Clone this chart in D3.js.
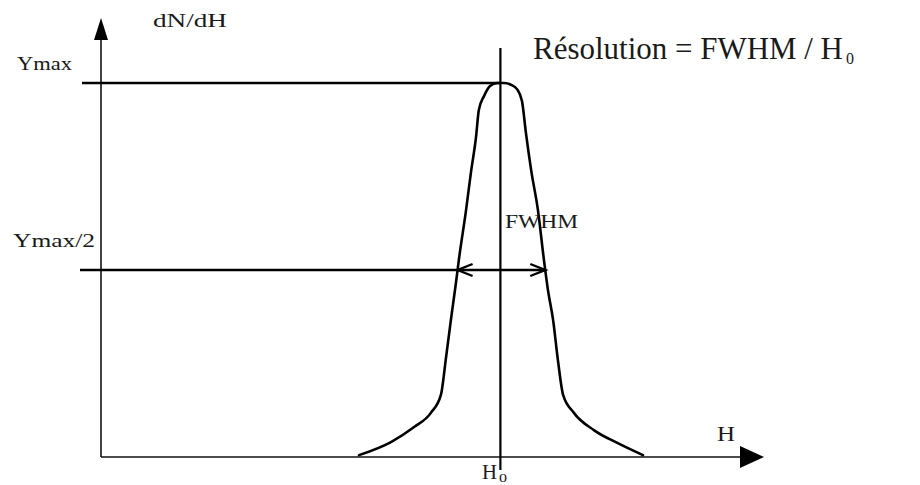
<!DOCTYPE html>
<html>
<head>
<meta charset="utf-8">
<script src="https://cdn.jsdelivr.net/npm/d3@7"></script>
<style>
  html, body { margin: 0; padding: 0; background: #fff; }
  svg { display: block; }
</style>
</head>
<body>
<svg id="chart" width="920" height="485"></svg>
<script>
// Peak profile: pulse height H versus counts dN/dH (arbitrary units)
const hValues = [64.6, 72.6, 78.4, 82.6, 85.1, 86.4, 87.6, 88.9, 89.6, 91.4, 92.6, 93.9, 94.6, 95.9, 97.4, 99.2,
                 100.9, 102.7, 104.2, 105.4, 106.4, 107.7, 109.4, 110.9, 111.9, 113.2, 114.4, 115.7, 118.4, 123.4, 129.4, 135.7];
const counts  = [0.5, 4.0, 8.0, 11.8, 16.6, 26.7, 36.6, 46.8, 52.7, 66.0, 75.9, 85.6, 92.8, 96.5, 99.2, 100,
                 100, 99.5, 98.3, 95.2, 86.6, 76.7, 66.0, 52.7, 44.7, 36.6, 25.9, 16.6, 11.8, 7.2, 3.7, 0.5];
const H0 = 100;
const yMax = d3.max(counts);
const yLevels = [
  { label: "Ymax",   value: yMax },
  { label: "Ymax/2", value: yMax / 2 }
];
const axisLabels = { y: "dN/dH", x: "H", peak: "H", peakSub: "0", width: "FWHM" };
const titleText = "Résolution = FWHM / H";
const titleSub = "0";

const FONT = "'Liberation Serif', 'DejaVu Serif', serif";
const svg = d3.select("#chart");
const x = d3.scaleLinear().domain([0, 166]).range([101, 764]);
const y = d3.scaleLinear().domain([0, yMax]).range([457, 83]);

const pts = hValues.map((h, i) => ({ h, c: counts[i] }));

// axes with filled arrowheads
const x0 = x(0), y0 = y(0);
svg.append("line").attr("x1", x0).attr("y1", y0).attr("x2", x0).attr("y2", 38)
  .attr("stroke", "#111").attr("stroke-width", 1.6);
svg.append("path").attr("d", `M${x0},18 L${x0 - 7},40 L${x0 + 7},40 Z`).attr("fill", "#000");
svg.append("line").attr("x1", x0).attr("y1", y0).attr("x2", 742).attr("y2", y0)
  .attr("stroke", "#111").attr("stroke-width", 1.6);
svg.append("path").attr("d", `M764,${y0} L740,${y0 - 11} L740,${y0 + 11} Z`).attr("fill", "#000");

// vertical line at the peak position H0
svg.append("line").attr("x1", x(H0)).attr("x2", x(H0)).attr("y1", 48).attr("y2", 470)
  .attr("stroke", "#000").attr("stroke-width", 2.2);

// half-maximum crossings, interpolated along the profile
function crossing(a, b, level) {
  const t = (level - a.c) / (b.c - a.c);
  return a.h + t * (b.h - a.h);
}
const half = yMax / 2;
let hLeft = null, hRight = null;
for (let i = 0; i < pts.length - 1; i++) {
  const a = pts[i], b = pts[i + 1];
  if (hLeft === null && a.c < half && b.c >= half) hLeft = crossing(a, b, half);
  if (a.c >= half && b.c < half) hRight = crossing(a, b, half);
}

// reference level lines
svg.append("line").attr("x1", 82).attr("x2", x(H0)).attr("y1", y(yMax)).attr("y2", y(yMax))
  .attr("stroke", "#000").attr("stroke-width", 2.4);
svg.append("line").attr("x1", 80).attr("x2", x(hRight)).attr("y1", y(half)).attr("y2", y(half))
  .attr("stroke", "#000").attr("stroke-width", 2.4);

// FWHM arrowheads (open chevrons)
const ay = y(half);
svg.append("path")
  .attr("d", `M${x(hLeft) + 15},${ay - 6} L${x(hLeft)},${ay} L${x(hLeft) + 15},${ay + 6}` +
             `M${x(hRight) - 15},${ay - 6} L${x(hRight)},${ay} L${x(hRight) - 15},${ay + 6}`)
  .attr("fill", "none").attr("stroke", "#000").attr("stroke-width", 2.4);

// the peak curve
const line = d3.line().x(d => x(d.h)).y(d => y(d.c)).curve(d3.curveMonotoneX);
svg.append("path").datum(pts).attr("d", line)
  .attr("fill", "none").attr("stroke", "#000").attr("stroke-width", 2.6)
  .attr("stroke-linejoin", "round").attr("stroke-linecap", "round");

// text helper
function label(str, px, py, size, len) {
  const t = svg.append("text").attr("x", px).attr("y", py)
    .attr("font-family", FONT).attr("font-size", size).attr("fill", "#1a1a1a").text(str);
  if (len) t.attr("textLength", len).attr("lengthAdjust", "spacingAndGlyphs");
  return t;
}

// level labels
label(yLevels[0].label, 17, y(yLevels[0].value) - 13, 18, 55);
label(yLevels[1].label, 13, y(yLevels[1].value) - 23, 18, 82);

// axis titles
label(axisLabels.y, 153, 27, 18, 74);
label(axisLabels.x, 717, 441, 20, 18);
label(axisLabels.peak, 482, 479, 20, 15);
label(axisLabels.peakSub, 499, 482, 12, 8);
label(axisLabels.width, 505, y(half) - 42, 19, 73);

// resolution formula
label(titleText, 533, 59, 31, 310);
label(titleSub, 846, 64, 16, 8);
</script>
</body>
</html>
